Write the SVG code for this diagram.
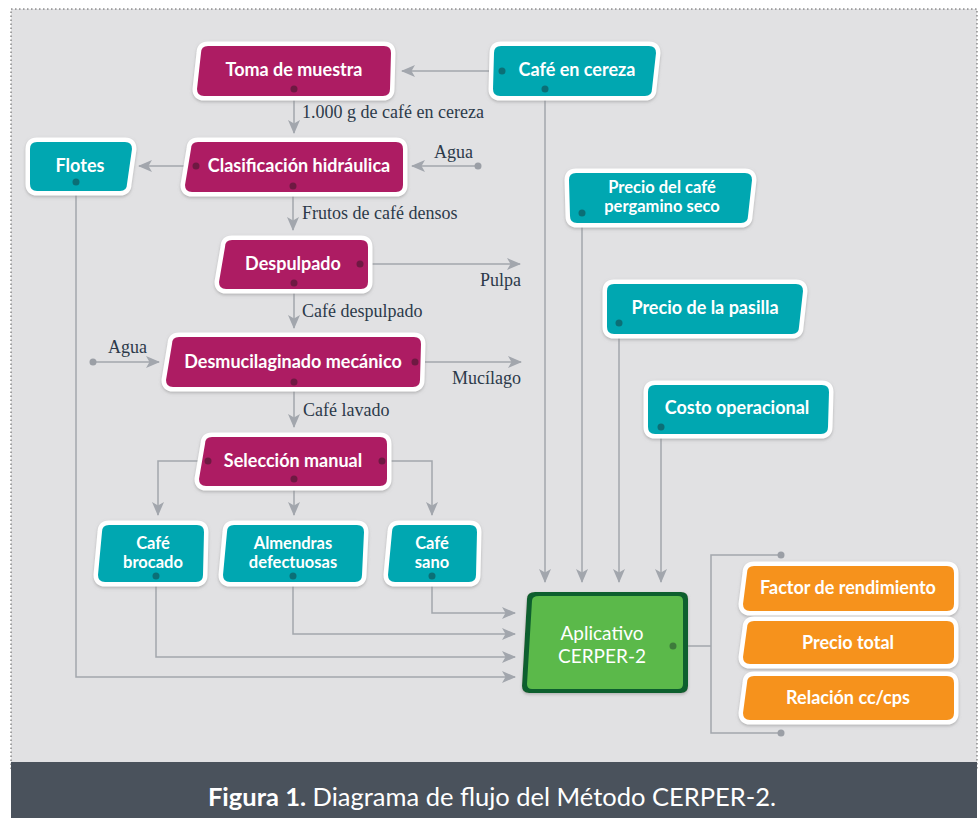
<svg xmlns="http://www.w3.org/2000/svg" width="980" height="818" viewBox="0 0 980 818">
<defs>
<style>
.box{stroke:#ffffff;stroke-width:9;stroke-linejoin:round;paint-order:stroke;filter:url(#sh)}
.mag{fill:#ad1e63}
.teal{fill:#00a7b1}
.org{fill:#f6921e}
.nt{font-family:Lato,"Open Sans",sans-serif;font-weight:700;font-size:18px;fill:#ffffff;text-anchor:middle}
.nt2{font-family:Lato,"Open Sans",sans-serif;font-weight:700;font-size:16.5px;fill:#ffffff;text-anchor:middle}
.lbl{font-family:"Liberation Serif",serif;font-size:18px;fill:#2c3a4a}
.end{text-anchor:end}
.cn{fill:none;stroke:#a2a6ad;stroke-width:1.5}
.ar{marker-end:url(#ah)}
.dm{fill:#6e1942}
.dt{fill:#0b6f76}
.dg{fill:#9b9fa6}
</style>
<filter id="sh" x="-10%" y="-20%" width="120%" height="150%">
<feDropShadow dx="0" dy="1.5" stdDeviation="1.5" flood-color="#8a8a8a" flood-opacity="0.55"/>
</filter>
<marker id="ah" markerUnits="userSpaceOnUse" markerWidth="14" markerHeight="12" refX="13" refY="6" orient="auto">
<path d="M0,0 L14,6 L0,12 L3.5,6 Z" fill="#a2a6ad"/>
</marker>
</defs>
<rect x="0" y="0" width="980" height="818" fill="#ffffff"/>
<rect x="11" y="9" width="966" height="760" fill="#e1e1e3" stroke="#5a5a5a" stroke-width="1" stroke-dasharray="1.5 2.5"/>
<rect x="11" y="762" width="966" height="56" fill="#4a525c"/>
<text x="492" y="806" text-anchor="middle" font-family="Lato,'Open Sans',sans-serif" font-size="25.5" fill="#ffffff"><tspan font-weight="700">Figura 1.</tspan> Diagrama de flujo del Método CERPER-2.</text>

<g id="connectors">
<path class="cn ar" d="M502,71 H402"/>
<path class="cn ar" d="M294,89 V133"/>
<path class="cn ar" d="M196,166 H139"/>
<path class="cn ar" d="M478,166 H412"/>
<path class="cn ar" d="M293,186 V230"/>
<path class="cn ar" d="M360,264 H520"/>
<path class="cn ar" d="M294,283 V328"/>
<path class="cn ar" d="M93,362 H159"/>
<path class="cn ar" d="M415,362 H521"/>
<path class="cn ar" d="M294,382 V427"/>
<path class="cn ar" d="M208,461 H158 V515"/>
<path class="cn ar" d="M294,479 V515"/>
<path class="cn ar" d="M382,461 H432 V515"/>
<path class="cn ar" d="M545,89 V582"/>
<path class="cn ar" d="M582,213 V582"/>
<path class="cn ar" d="M619,323 V582"/>
<path class="cn ar" d="M661,427 V582"/>
<path class="cn ar" d="M432,576 V613 H515"/>
<path class="cn ar" d="M293,576 V634 H515"/>
<path class="cn ar" d="M156,576 V657 H515"/>
<path class="cn ar" d="M76,182 V677 H515"/>
<path class="cn" d="M673,646 H711"/>
<path class="cn" d="M781,555 H711 V733 H781"/>
<circle class="dg" cx="478" cy="166" r="3.5"/>
<circle class="dg" cx="93" cy="362" r="3.5"/>
<circle class="dg" cx="781" cy="555" r="3.5"/>
<circle class="dg" cx="781" cy="733" r="3.5"/>
<text class="lbl" x="302" y="118">1.000 g de café en cereza</text>
<text class="lbl end" x="473" y="158">Agua</text>
<text class="lbl" x="302" y="219">Frutos de café densos</text>
<text class="lbl end" x="521" y="286">Pulpa</text>
<text class="lbl" x="302" y="317">Café despulpado</text>
<text class="lbl" x="108" y="353">Agua</text>
<text class="lbl end" x="521" y="384">Mucílago</text>
<text class="lbl" x="303" y="416">Café lavado</text>
</g>

<g id="toma">
<path class="box mag" d="M208,46 H384 Q391,46 391,53 L390,89 Q390,96 383,96 H204 Q197,96 197,89 L201,53 Q201,46 208,46 Z"/>
<text class="nt" x="294" y="76">Toma de muestra</text>
<circle class="dm" cx="294" cy="89" r="3.5"/>
</g>
<g id="cafe-cereza">
<path class="box teal" d="M501,46 H649 Q656,46 656,53 L652,89 Q652,96 645,96 H500 Q493,96 493,89 L494,53 Q494,46 501,46 Z"/>
<text class="nt" x="577" y="76">Café en cereza</text>
<circle class="dt" cx="502" cy="71" r="3.5"/>
<circle class="dt" cx="545" cy="89" r="3.5"/>
</g>
<g id="clasificacion">
<path class="box mag" d="M198,142 H396 Q403,142 403,149 L403,185 Q403,192 396,192 H192 Q185,192 185,185 L191,149 Q191,142 198,142 Z"/>
<text class="nt" x="299" y="172">Clasificación hidráulica</text>
<circle class="dm" cx="196" cy="166" r="3.5"/>
<circle class="dm" cx="293" cy="186" r="3.5"/>
</g>
<g id="flotes">
<path class="box teal" d="M37,142 H125 Q132,142 132,149 L127,184 Q127,191 120,191 H37 Q30,191 30,184 L30,149 Q30,142 37,142 Z"/>
<text class="nt" x="80" y="172">Flotes</text>
<circle class="dt" cx="76" cy="182" r="3.5"/>
</g>
<g id="despulpado">
<path class="box mag" d="M232,240 H361 Q368,240 368,247 L368,282 Q368,289 361,289 H226 Q219,289 219,282 L225,247 Q225,240 232,240 Z"/>
<text class="nt" x="293" y="270">Despulpado</text>
<circle class="dm" cx="360" cy="264" r="3.5"/>
<circle class="dm" cx="294" cy="283" r="3.5"/>
</g>
<g id="desmucilaginado">
<path class="box mag" d="M179,337 H414 Q421,337 421,344 L420,380 Q420,387 413,387 H173 Q166,387 166,380 L172,344 Q172,337 179,337 Z"/>
<text class="nt" x="293" y="368">Desmucilaginado mecánico</text>
<circle class="dm" cx="415" cy="362" r="3.5"/>
<circle class="dm" cx="294" cy="382" r="3.5"/>
</g>
<g id="seleccion">
<path class="box mag" d="M212,437 H380 Q387,437 387,444 L387,479 Q387,486 380,486 H206 Q199,486 199,479 L205,444 Q205,437 212,437 Z"/>
<text class="nt" x="293" y="467">Selección manual</text>
<circle class="dm" cx="208" cy="461" r="3.5"/>
<circle class="dm" cx="382" cy="461" r="3.5"/>
<circle class="dm" cx="294" cy="479" r="3.5"/>
</g>
<g id="cafe-brocado">
<path class="box teal" d="M109,525 H197 Q204,525 204,532 L203,575 Q203,582 196,582 H105 Q98,582 98,575 L102,532 Q102,525 109,525 Z"/>
<text class="nt2" x="153" y="549">Café</text>
<text class="nt2" x="153" y="568">brocado</text>
<circle class="dt" cx="156" cy="576" r="3.5"/>
</g>
<g id="almendras">
<path class="box teal" d="M234,525 H357 Q364,525 364,532 L362,575 Q362,582 355,582 H230 Q223,582 223,575 L227,532 Q227,525 234,525 Z"/>
<text class="nt2" x="293" y="549">Almendras</text>
<text class="nt2" x="293" y="568">defectuosas</text>
<circle class="dt" cx="293" cy="576" r="3.5"/>
</g>
<g id="cafe-sano">
<path class="box teal" d="M399,525 H470 Q477,525 477,532 L476,575 Q476,582 469,582 H395 Q388,582 388,575 L392,532 Q392,525 399,525 Z"/>
<text class="nt2" x="432" y="549">Café</text>
<text class="nt2" x="432" y="568">sano</text>
<circle class="dt" cx="432" cy="576" r="3.5"/>
</g>
<g id="precio-pergamino">
<path class="box teal" d="M576,173 H745 Q752,173 752,180 L748,216 Q748,223 741,223 H577 Q570,223 570,216 L569,180 Q569,173 576,173 Z"/>
<text class="nt2" x="662" y="193">Precio del café</text>
<text class="nt2" x="662" y="212">pergamino seco</text>
<circle class="dt" cx="582" cy="213" r="3.5"/>
</g>
<g id="precio-pasilla">
<path class="box teal" d="M614,284 H796 Q803,284 803,291 L799,327 Q799,334 792,334 H614 Q607,334 607,327 L607,291 Q607,284 614,284 Z"/>
<text class="nt" x="705" y="314">Precio de la pasilla</text>
<circle class="dt" cx="619" cy="323" r="3.5"/>
</g>
<g id="costo-operacional">
<path class="box teal" d="M655,385 H822 Q829,385 829,392 L828,427 Q828,434 821,434 H655 Q648,434 648,427 L648,392 Q648,385 655,385 Z"/>
<text class="nt" x="737" y="414">Costo operacional</text>
<circle class="dt" cx="661" cy="427" r="3.5"/>
</g>
<g id="cerper">
<path d="M535,592 H681 Q688,592 688,599 L688,686 Q688,693 681,693 H529 Q522,693 522,686 L527,599 Q527,592 535,592 Z" fill="#0e5e2d" filter="url(#sh)"/>
<path d="M539,596 H678 Q683,596 683,601 L683,684 Q683,689 678,689 H532 Q527,689 527,684 L532,601 Q532,596 539,596 Z" fill="#5bb94a"/>
<text x="602" y="640" text-anchor="middle" font-family="Lato,'Open Sans',sans-serif" font-size="19" fill="#ffffff">Aplicativo</text>
<text x="602" y="663" text-anchor="middle" font-family="Lato,'Open Sans',sans-serif" font-size="19" fill="#ffffff">CERPER-2</text>
<circle cx="673" cy="646" r="3.5" fill="#3d7b3b"/>
</g>
<g id="factor-rendimiento">
<path class="box org" d="M754,566 H947 Q954,566 954,573 L954,604 Q954,611 947,611 H750 Q743,611 743,604 L747,573 Q747,566 754,566 Z"/>
<text class="nt" x="848" y="594">Factor de rendimiento</text>
</g>
<g id="precio-total">
<path class="box org" d="M754,621 H947 Q954,621 954,628 L954,657 Q954,664 947,664 H750 Q743,664 743,657 L747,628 Q747,621 754,621 Z"/>
<text class="nt" x="848" y="649">Precio total</text>
</g>
<g id="relacion">
<path class="box org" d="M754,676 H947 Q954,676 954,683 L954,713 Q954,720 947,720 H750 Q743,720 743,713 L747,683 Q747,676 754,676 Z"/>
<text class="nt" x="848" y="704">Relación cc/cps</text>
</g>
</svg>
